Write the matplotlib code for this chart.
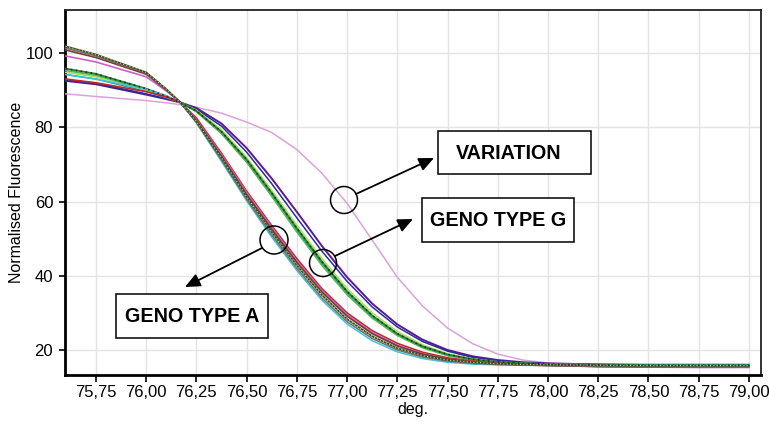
import matplotlib
matplotlib.use('Agg')
import matplotlib.pyplot as plt
from matplotlib.patches import Circle, Rectangle, FancyArrowPatch

plt.rcParams['font.family'] = ['Liberation Sans', 'DejaVu Sans']

# ---------------- data ----------------
temps = [75.60, 75.75, 76.00, 76.10, 76.17, 76.25, 76.375, 76.50, 76.625, 76.75,
         76.875, 77.00, 77.125, 77.25, 77.375, 77.50, 77.625, 77.75, 77.875, 78.00,
         78.25, 78.50, 78.75, 79.00]

# Genotype A group (steeper, lower melting)
a_olive = [101.8, 99.6, 94.8, 90.3, 86.7, 81.6, 71.8, 61.3, 51.8, 42.8, 34.8, 28.3, 23.7, 20.5, 18.5, 17.3, 16.7, 16.3, 16.1, 16.0, 15.9, 15.8, 15.8, 15.8]
a_gray  = [101.3, 99.2, 94.6, 90.2, 86.7, 81.3, 71.2, 60.6, 51.0, 42.0, 34.0, 27.6, 23.1, 20.0, 18.1, 17.0, 16.4, 16.1, 15.9, 15.8, 15.7, 15.7, 15.6, 15.6]
a_brown = [100.8, 98.8, 94.3, 90.1, 86.7, 81.8, 72.2, 61.9, 52.5, 43.6, 35.6, 29.1, 24.4, 21.1, 18.9, 17.6, 16.8, 16.3, 16.0, 15.8, 15.6, 15.5, 15.5, 15.5]
a_pink  = [99.2, 97.6, 93.6, 89.8, 86.7, 82.0, 72.6, 62.4, 53.0, 44.0, 36.0, 29.5, 24.7, 21.3, 19.0, 17.6, 16.8, 16.3, 16.0, 15.9, 15.6, 15.4, 15.3, 15.3]
a_red   = [93.0, 92.0, 89.6, 88.2, 86.7, 82.5, 73.0, 62.8, 53.5, 44.6, 36.5, 30.0, 25.2, 21.8, 19.4, 17.9, 17.0, 16.4, 16.1, 15.9, 15.5, 15.4, 15.5, 15.6]
a_cyan  = [94.2, 93.0, 90.2, 88.5, 86.7, 81.2, 70.8, 60.2, 50.4, 41.4, 33.4, 27.0, 22.5, 19.5, 17.7, 16.7, 16.2, 16.0, 15.9, 15.9, 15.9, 15.9, 15.9, 15.9]

# Genotype G group
g_dkgreen = [95.8, 94.4, 90.4, 88.4, 86.7, 84.4, 78.8, 71.3, 62.3, 52.8, 43.8, 35.8, 29.3, 24.4, 21.0, 18.8, 17.5, 16.8, 16.4, 16.2, 16.0, 15.9, 15.9, 15.9]
g_green   = [95.3, 94.0, 90.2, 88.3, 86.7, 84.2, 78.3, 70.6, 61.4, 51.8, 42.8, 34.9, 28.6, 23.9, 20.6, 18.5, 17.3, 16.6, 16.3, 16.1, 16.0, 16.0, 15.9, 15.9]
g_lime    = [94.8, 93.6, 90.0, 88.2, 86.7, 84.6, 79.3, 71.9, 63.0, 53.6, 44.6, 36.6, 30.0, 25.0, 21.4, 19.0, 17.6, 16.8, 16.4, 16.2, 16.0, 15.9, 15.9, 15.9]
g_teal    = [94.2, 93.0, 89.7, 88.0, 86.7, 84.3, 78.6, 70.9, 61.8, 52.3, 43.3, 35.4, 29.0, 24.2, 20.8, 18.6, 17.4, 16.7, 16.3, 16.1, 16.1, 16.1, 16.1, 16.1]
g_navy    = [92.8, 91.9, 89.0, 87.7, 86.7, 84.9, 80.3, 73.3, 64.8, 55.6, 46.6, 38.5, 31.6, 26.2, 22.3, 19.7, 18.0, 17.1, 16.6, 16.3, 16.1, 16.0, 16.0, 16.0]
g_purple  = [92.5, 91.6, 88.8, 87.6, 86.7, 85.2, 81.0, 74.4, 66.2, 57.2, 48.0, 39.6, 32.5, 26.9, 22.8, 20.0, 18.3, 17.3, 16.7, 16.4, 16.1, 16.0, 16.0, 16.0]

# Variation sample
variation = [89.0, 88.3, 87.2, 86.6, 86.1, 85.4, 83.8, 81.4, 78.6, 74.0, 67.6, 59.5, 49.6, 39.6, 31.9, 25.9, 21.7, 18.9, 17.3, 16.5, 16.0, 15.8, 15.7, 15.7]

x_ticks = [75.75, 76.00, 76.25, 76.50, 76.75, 77.00, 77.25, 77.50, 77.75, 78.00, 78.25, 78.50, 78.75, 79.00]
y_ticks = [20, 40, 60, 80, 100]

labels = {"variation": "VARIATION", "g": "GENO TYPE G", "a": "GENO TYPE A"}

# ---------------- figure ----------------
W, H = 769, 425
fig = plt.figure(figsize=(W / 100, H / 100), dpi=100)
ax = fig.add_axes([65 / W, (H - 375) / H, (761 - 65) / W, (375 - 10) / H])
ax.set_xlim(75.596, 79.06)
ax.set_ylim(13.27, 111.6)

series = [
    (variation, '#d9a3d9', 1.1),
    (g_purple, '#5a1a8c', 1.4),
    (g_navy, '#2b2ba8', 1.1),
    (g_teal, '#1f9a8a', 1.1),
    (g_lime, '#b5dc6a', 1.2),
    (g_green, '#4cbf48', 1.2),
    (g_dkgreen, '#2f7a3c', 1.3),
    (a_cyan, '#3cc6d6', 1.1),
    (a_red, '#c0282a', 1.2),
    (a_pink, '#cc5fcc', 1.2),
    (a_brown, '#7a3b2e', 1.2),
    (a_gray, '#707070', 1.1),
    (a_olive, '#3f4d22', 1.3),
]
for ys, c, lw in series:
    ax.plot(temps, ys, color=c, lw=lw, solid_joinstyle='round', zorder=3)
# dotted appearance of two curves
ax.plot(temps, g_dkgreen, color='#1a3a1a', lw=1.2, ls=(0, (1, 2)), zorder=4)
ax.plot(temps, a_olive, color='#c8c8a0', lw=0.8, ls=(0, (1, 2)), zorder=4)

ax.set_xticks(x_ticks)
ax.set_xticklabels([f"{v:.2f}".replace('.', ',') for v in x_ticks])
ax.set_yticks(y_ticks)
ax.grid(True, color='#e4e4e4', lw=1.0, zorder=0)
ax.set_axisbelow(True)

ax.tick_params(axis='x', direction='out', length=5, width=1.2, pad=2.5, labelsize=12, colors='black')
ax.tick_params(axis='y', direction='out', length=4, width=1.2, pad=4.5, labelsize=12, colors='black')
ax.set_xlabel('deg.', fontsize=11.5, labelpad=1)
ax.set_ylabel('Normalised Fluorescence', fontsize=11.5, labelpad=1)

for s in ['left', 'bottom']:
    ax.spines[s].set_linewidth(2.0)
    ax.spines[s].set_color('black')
for s in ['top', 'right']:
    ax.spines[s].set_linewidth(1.3)
    ax.spines[s].set_color('#222222')

# ---------------- annotations (figure pixel space) ----------------
tr = fig.dpi_scale_trans


def P(px, py):
    return (px / 100.0, (H - py) / 100.0)


def circle(px, py, r):
    fig.patches.append(Circle(P(px, py), r / 100.0, transform=tr, fill=False,
                              ec='black', lw=1.1, zorder=10))


def box(x0, y0, x1, y1, tx, ty, text):
    fig.patches.append(Rectangle(P(x0, y1), (x1 - x0) / 100.0, (y1 - y0) / 100.0,
                                 transform=tr, fill=True, fc='white', ec='black', lw=1.1, zorder=10))
    fig.text(*P(tx, ty + 7), text, transform=tr, ha='center', va='baseline',
             fontsize=14.2, fontweight='bold', color='black', zorder=11)


def arrow(x0, y0, x1, y1):
    fig.patches.append(FancyArrowPatch(P(x0, y0), P(x1, y1), transform=tr,
                                       arrowstyle='-|>,head_length=0.6,head_width=0.27',
                                       mutation_scale=15, lw=1.3, color='black',
                                       shrinkA=0, shrinkB=0, zorder=10))


circle(344, 200, 13.5)
circle(323, 263, 13.5)
circle(274, 240, 14)

arrow(356, 194, 434, 158)
arrow(335, 256, 413, 219)
arrow(262, 248, 185, 287)

box(438, 131, 591, 174, 509, 152, labels["variation"])
box(422, 198, 574, 242, 498, 219, labels["g"])
box(116, 294, 268, 338, 192, 315, labels["a"])

fig.savefig('out.png', dpi=100, facecolor='white')
